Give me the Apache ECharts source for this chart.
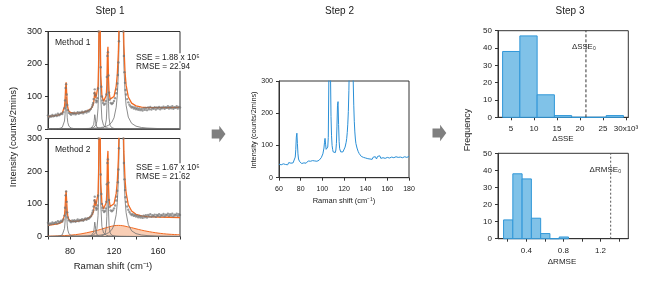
<!DOCTYPE html>
<html><head><meta charset="utf-8">
<script src="https://cdn.jsdelivr.net/npm/echarts@6/dist/echarts.min.js"></script>
<style>html,body{margin:0;padding:0;background:#fff}#c{width:650px;height:281px}</style>
</head><body><div id="c"></div>
<script>
const FONT = 'Liberation Sans, Arial, Helvetica, sans-serif';

// ---- measured Raman spectrum (Step 1 dots, Step 2 line) ----
const spectrumShift = [
60,61,62,63,64,65,66,67,68,69,70,71,72,73,74,
75,75.5,76,76.5,77,77.5,78,
79,80,81,82,83,84,85,86,87,88,89,90,91,92,93,94,95,96,97,98,99,
100,100.5,101,101.5,102,102.5,103,103.5,104,104.5,105,105.5,106,106.5,107,107.5,108,108.5,109,109.5,110,
111,112,112.5,113,113.5,114,114.5,115,115.5,116,
117,118,119,120,121,122,122.5,123,123.5,124,124.5,125,125.5,126,126.5,127,127.5,128,128.5,129,129.5,130,130.5,131,
132,133,134,135,136,137,138,139,140,141,142,143,144,145,146,147,148,149,150,151,152,153,154,155,156,157,158,159,160,
161,162,163,164,165,166,167,168,169,170,171,172,173,174,175,176,177,178,179,180];
const spectrumIntensity = [
42,36,40,38,43,39,41,44,40,47,42,45,48,46,52,
64,88,126,138,106,74,58,
50,47,44,49,46,50,45,48,52,47,51,49,53,48,52,55,51,56,54,58,62,
68,74,80,92,110,122,104,88,82,86,95,125,300,450,480,330,190,130,100,88,80,
75,78,86,106,160,225,236,165,112,90,
80,77,80,86,95,110,122,140,166,205,270,360,480,620,700,660,540,400,300,225,175,142,120,106,
92,82,75,70,66,68,63,66,61,64,59,63,58,62,57,64,59,65,58,66,61,68,60,65,62,67,60,66,63,
68,61,66,64,69,62,67,65,70,63,68,64,70,62,67,65,70,63,68,66];

// ---- fitted curves (Step 1) on a shared shift grid ----
const fitShift = [
60,63,66,69,71,73,74, 75,75.5,76,76.5,77,77.5,78, 79,81,84,88,92,96,99,
100.5,101.5,102,102.5,103,103.5,104.5, 105.5,106,106.5,107,107.5,108,109,
110.5,112,113,113.5,114,114.5,115, 115.5,116.5,118,120,122,123,124,
125,125.5,126,126.5,127,127.5,128, 129,130,131,133,136,140,145, 150,160,170,180];
const fitMethod1 = [
38,39.5,41,43,45,49,54, 69,89,125,143.5,109,80,65.5, 54.5,50,48.5,49.5,51.5,56,62,
70,80,95,115,108,94,92, 133,199,383,535,288,166,103,
85,87,104,137,228,253,154, 114,92,89,100,132,168,238,
390,517,665,759,715,577,436, 259,176,135,98.5,79.5,71,67, 66,65.5,66,66.5];
const fitMethod2 = [
34,35.5,37,39,41,45,50, 65.5,85.5,121.5,140,105.5,77,62.5, 51.5,47,46,47.5,50,55,61,
69,79,94,114,107,93,91, 132,198,382,534,287,165,102,
85,87,104,137,235,262,156, 114,92,89,100,132,168,238,
390,517,665,759,715,577,436, 259,176,134,97,78,68,63, 61,59.5,59,58];
const peak76 = [
0,0.4,0.6,1.2,2.1,5.3,10, 24.6,44,80,98.5,64,34.6,20, 8.6,2.9,1.1,0.5,0.3,0.2,0.1,
0,0,0,0,0,0,0, 0,0,0,0,0,0,0, 0,0,0,0,0,0,0, 0,0,0,0,0,0,0,
0,0,0,0,0,0,0, 0,0,0,0,0,0,0, 0,0,0,0];
const peak103 = [
0,0,0,0,0,0,0, 0,0,0,0,0,0,0, 0,0,0.1,0.1,0.2,0.5,1.6,
4.5,13,26,44,34,17,5.4, 2.5,1.8,1.4,1.1,0.9,0.75,0.5,
0.35,0.2,0.2,0.2,0.1,0.1,0.1, 0,0,0,0,0,0,0,
0,0,0,0,0,0,0, 0,0,0,0,0,0,0, 0,0,0,0];
const peak107 = [
0,0,0,0,0.1,0.1,0.1, 0.1,0.1,0.1,0.1,0.1,0.1,0.1, 0.2,0.2,0.3,0.4,0.65,1.2,2.3,
3.5,4.9,6.0,7.4,9.4,12.2,24, 64,130,314,465,219,96,30.8,
11,5.5,3.9,3.3,2.9,2.5,2.2, 2.0,1.6,1.2,0.85,0.64,0.57,0.5,
0.45,0.43,0.41,0.39,0.37,0.36,0.34, 0.32,0.3,0.28,0.24,0.2,0.15,0.11, 0.08,0.05,0.03,0.02];
const peak114 = [
0,0,0,0,0,0,0, 0,0,0,0,0,0,0, 0,0,0,0.1,0.1,0.2,0.3,
0.3,0.35,0.4,0.4,0.45,0.5,0.6, 0.7,0.8,0.9,1.0,1.2,1.4,2.0,
3.8,10,28,62,150,175,78, 34,10.9,4.0,1.7,0.94,0.74,0.6,
0.5,0.45,0.4,0.37,0.34,0.32,0.3, 0.27,0.25,0.22,0.18,0.14,0.1,0.07, 0.05,0.03,0.02,0.01];
const peak127 = [
0.36,0.39,0.43,0.47,0.51,0.55,0.56, 0.58,0.59,0.6,0.6,0.61,0.62,0.63, 0.65,0.76,0.87,1.06,1.31,1.68,2.06,
2.3,2.5,2.6,2.7,2.8,2.9,3.2, 3.5,3.7,3.9,4.1,4.3,4.5,5.0,
6.0,7.3,8.4,9.1,9.8,10.6,11.5, 12.5,15.1,20.7,34.4,67,103.6,175,
327,455,603,697,653,515,374, 197,114,73,36.5,17.4,8.7,4.6, 2.9,1.4,0.84,0.55];
// broad background band used by Method 2
const broadShift = [60,70,80,90,100,105,110,115,120,124,128,132,136,140,145,150,155,160,165,170,175,180];
const broadBand  = [1,2,4,8,15,19,24,29,33,34,33,30,27,23.5,19.5,16,13,10.5,8.5,7,6,5];

// ---- Step 3 histograms ----
const sseBinStart = [3.2,6.95,10.7,14.45,18.2,21.95,25.7];
const sseBinEnd   = [6.95,10.7,14.45,18.2,21.95,25.7,29.45];
const sseCounts   = [38,47,13,1,0,0,1];
const sseThreshold = 21.3;
const rmseBinStart = [0.155,0.255,0.355,0.455,0.555,0.655,0.755];
const rmseBinEnd   = [0.255,0.355,0.455,0.555,0.655,0.755,0.855];
const rmseCounts   = [11,38,35,12,3,0,1];
const rmseThreshold = 1.31;

// ---- tick labels ----
const intensityTicks = [0,100,200,300];
const step1ShiftLabels = [80,120,160];
const sseTicks = [5,10,15,20,25,30];
const rmseTicks = [0.2,0.4,0.6,0.8,1.0,1.2,1.4];
const rmseTickLabels = [0.4,0.8,1.2];

// ---------------------------------------------
const zip = (xs, ys) => xs.map((x, i) => [x, ys[i]]);
const AX = '#333', TXT = '#222';
const ORANGE = '#f26a22', GRAYC = '#6f6f6f', BLUE = '#2a8fd6';

function valAxis(gi, o) {
  return Object.assign({
    type: 'value', gridIndex: gi,
    axisLine: { show: true, lineStyle: { color: AX, width: 1 } },
    axisTick: { show: true, length: 3, lineStyle: { color: AX, width: 1 } },
    splitLine: { show: false }
  }, o);
}
const lab = (size, margin, extra) => Object.assign({ fontFamily: FONT, fontSize: size, color: TXT, margin: margin }, extra || {});

const grids = [
  { left: 48, top: 31.5, width: 132, height: 97.5 },
  { left: 48, top: 138.5, width: 132, height: 98 },
  { left: 279, top: 81, width: 130, height: 96.7 },
  { left: 498, top: 30.7, width: 130.3, height: 86.6 },
  { left: 498, top: 153.3, width: 130.3, height: 85.4 }
].map(g => Object.assign(g, { show: true, borderColor: AX, borderWidth: 1, backgroundColor: 'transparent', containLabel: false, outerBoundsMode: 'none' }));

const xAxes = [
  valAxis(0, { min: 60, max: 180, interval: 20, axisLabel: { show: false }, axisTick: { show: false } }),
  valAxis(1, { min: 60, max: 180, interval: 20,
    axisLabel: lab(9, 11, { formatter: v => step1ShiftLabels.indexOf(v) >= 0 ? String(v) : '' }) }),
  valAxis(2, { min: 60, max: 180, interval: 20, axisLabel: lab(7, 7.5) }),
  valAxis(3, { min: 2.2, max: 30.5,
    axisTick: { show: true, length: 3, lineStyle: { color: AX }, customValues: sseTicks },
    axisLabel: lab(8, 7.5, { customValues: sseTicks, formatter: v => v === 30 ? '30x10³' : String(v) }) }),
  valAxis(4, { min: 0.095, max: 1.5,
    axisTick: { show: true, length: 3, lineStyle: { color: AX }, customValues: rmseTicks },
    axisLabel: lab(8, 8, { customValues: rmseTickLabels, formatter: v => v.toFixed(1) }) })
];
const yAxes = [
  valAxis(0, { min: 0, max: 300, interval: 100, axisLabel: lab(9, 6) }),
  valAxis(1, { min: 0, max: 300, interval: 100, axisLabel: lab(9, 6) }),
  valAxis(2, { min: 0, max: 300, interval: 100, axisLabel: lab(7, 6) }),
  valAxis(3, { min: 0, max: 50, interval: 10, axisLabel: lab(8, 6) }),
  valAxis(4, { min: 0, max: 50, interval: 10, axisLabel: lab(8, 6) })
];

const series = [];
function compLine(ai, arr) {
  series.push({ type: 'line', xAxisIndex: ai, yAxisIndex: ai, data: zip(fitShift, arr), showSymbol: false, symbol: 'none',
    lineStyle: { color: GRAYC, width: 0.8 }, z: 3, silent: true });
}
function dots(ai) {
  series.push({ type: 'scatter', xAxisIndex: ai, yAxisIndex: ai, data: zip(spectrumShift, spectrumIntensity),
    symbolSize: 2.4, itemStyle: { color: 'rgba(115,115,115,0.9)' }, z: 6, silent: true });
}
// Step 1 top: Method 1
[peak76, peak103, peak107, peak114, peak127].forEach(a => compLine(0, a));
series.push({ type: 'line', xAxisIndex: 0, yAxisIndex: 0, data: zip(fitShift, fitMethod1), symbol: 'none',
  lineStyle: { color: ORANGE, width: 1.3 }, z: 5 });
dots(0);
// Step 1 bottom: Method 2
series.push({ type: 'line', xAxisIndex: 1, yAxisIndex: 1, data: zip(broadShift, broadBand), symbol: 'none', smooth: 0.3,
  lineStyle: { color: ORANGE, width: 1 }, areaStyle: { color: '#f8c5a8', opacity: 0.85 }, z: 2 });
[peak76, peak103, peak107, peak114, peak127].forEach(a => compLine(1, a));
series.push({ type: 'line', xAxisIndex: 1, yAxisIndex: 1, data: zip(fitShift, fitMethod2), symbol: 'none',
  lineStyle: { color: ORANGE, width: 1.3 }, z: 5 });
dots(1);
// Step 2
series.push({ type: 'line', xAxisIndex: 2, yAxisIndex: 2, data: zip(spectrumShift, spectrumIntensity), symbol: 'none',
  lineStyle: { color: BLUE, width: 1 } });
// Step 3 histograms
function hist(ai, starts, ends, counts) {
  series.push({ type: 'custom', xAxisIndex: ai, yAxisIndex: ai,
    data: starts.map((s, i) => [s, ends[i], counts[i]]),
    encode: { x: [0, 1], y: 2 },
    renderItem: (params, api) => {
      const p0 = api.coord([api.value(0), api.value(2)]);
      const p1 = api.coord([api.value(1), 0]);
      return { type: 'rect', shape: { x: p0[0], y: p0[1], width: p1[0] - p0[0], height: p1[1] - p0[1] },
        style: { fill: '#80c2e8', stroke: '#3097d8', lineWidth: 1 } };
    }, z: 3 });
}
hist(3, sseBinStart, sseBinEnd, sseCounts);
hist(4, rmseBinStart, rmseBinEnd, rmseCounts);
series.push({ type: 'line', xAxisIndex: 3, yAxisIndex: 3, data: [[sseThreshold, 0], [sseThreshold, 50]], symbol: 'none',
  lineStyle: { color: '#333', width: 1, type: [3, 2] }, z: 4 });
series.push({ type: 'line', xAxisIndex: 4, yAxisIndex: 4, data: [[rmseThreshold, 0], [rmseThreshold, 50]], symbol: 'none',
  lineStyle: { color: '#555', width: 1, type: [2, 2] }, z: 4 });

function txt(x, y, text, size, opt) {
  opt = opt || {};
  const st = { text: text, font: size + 'px ' + FONT, fill: TXT,
      align: opt.align || 'center', verticalAlign: 'middle',
      textAlign: opt.align || 'center', textVerticalAlign: 'middle' };
  if (opt.bg) { st.backgroundColor = '#fff'; st.padding = [0, 1, 0, 1]; }
  return { type: 'text', x: x, y: y, rotation: opt.rot || 0, z: 100, style: st };
}
function arrow(x0, cy) {
  return { type: 'polygon', z: 100, shape: { points: [
    [x0, cy - 4.6], [x0 + 7.6, cy - 4.6], [x0 + 7.6, cy - 8.3], [x0 + 13.8, cy], [x0 + 7.6, cy + 8.3], [x0 + 7.6, cy + 4.6], [x0, cy + 4.6]] },
    style: { fill: '#7f7f7f' } };
}
const graphics = [
  txt(110, 11.7, 'Step 1', 10), txt(339.5, 11.7, 'Step 2', 10), txt(570, 11.7, 'Step 3', 10),
  txt(55, 42.7, 'Method 1', 8.5, { align: 'left' }),
  txt(135, 57.3, 'SSE = 1.88 x 10⁵', 8.3, { align: 'left', bg: true }),
  txt(135, 66.7, 'RMSE = 22.94', 8.3, { align: 'left', bg: true }),
  txt(55, 150, 'Method 2', 8.5, { align: 'left' }),
  txt(135, 167.3, 'SSE = 1.67 x 10⁵', 8.3, { align: 'left', bg: true }),
  txt(135, 176.7, 'RMSE = 21.62', 8.3, { align: 'left', bg: true }),
  txt(13, 137, 'Intensity (counts/2mins)', 9.5, { rot: Math.PI / 2 }),
  txt(113, 266.7, 'Raman shift (cm⁻¹)', 9.5),
  txt(254, 130, 'Intensity (counts/2mins)', 7.3, { rot: Math.PI / 2 }),
  txt(344, 201, 'Raman shift (cm⁻¹)', 7.5),
  txt(468, 130, 'Frequency', 9, { rot: Math.PI / 2 }),
  txt(563, 138.5, 'ΔSSE', 8),
  txt(562, 261.7, 'ΔRMSE', 8),
  txt(584, 46.7, 'ΔSSE₀', 7.8),
  txt(605.5, 169.3, 'ΔRMSE₀', 8),
  arrow(211.7, 134), arrow(432.5, 133)
];

const chart = echarts.init(document.getElementById('c'), null, { renderer: 'canvas' });
chart.setOption({
  animation: false,
  backgroundColor: '#fff',
  textStyle: { fontFamily: FONT },
  grid: grids, xAxis: xAxes, yAxis: yAxes, series: series, graphic: graphics
});
</script></body></html>
